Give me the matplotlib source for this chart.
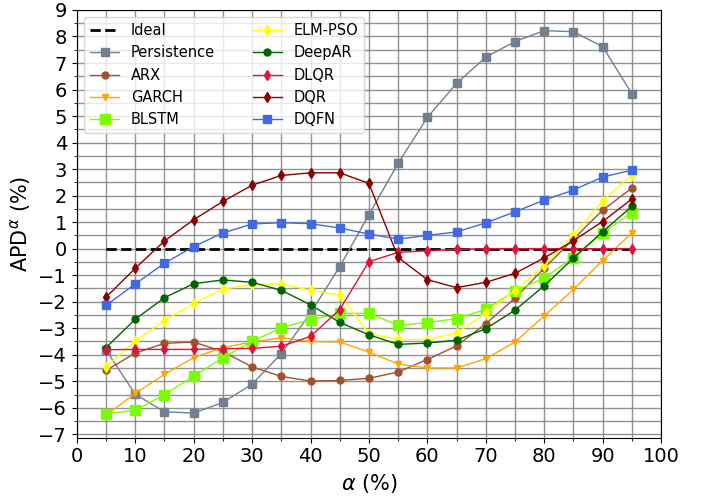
import matplotlib
matplotlib.use("Agg")
import matplotlib.pyplot as plt
import numpy as np
from matplotlib.ticker import MultipleLocator

alpha = [5, 10, 15, 20, 25, 30, 35, 40, 45, 50, 55, 60, 65, 70, 75, 80, 85, 90, 95]

ideal = [0] * 19
persistence = [-3.83, -5.49, -6.15, -6.2, -5.8, -5.11, -3.96, -2.43, -0.68, 1.28,
               3.22, 4.95, 6.23, 7.22, 7.81, 8.22, 8.18, 7.62, 5.85]
arx = [-4.59, -3.94, -3.57, -3.52, -3.88, -4.46, -4.82, -4.99, -4.97, -4.89,
       -4.65, -4.18, -3.67, -2.83, -1.87, -0.74, 0.36, 1.45, 2.28]
garch = [-6.28, -5.46, -4.74, -4.11, -3.73, -3.52, -3.36, -3.5, -3.52, -3.9,
         -4.35, -4.5, -4.5, -4.15, -3.52, -2.54, -1.54, -0.45, 0.59]
blstm = [-6.22, -6.1, -5.5, -4.81, -4.11, -3.5, -2.98, -2.68, -2.44, -2.44,
         -2.89, -2.79, -2.64, -2.29, -1.6, -1.1, -0.35, 0.59, 1.36]
elm_pso = [-4.46, -3.48, -2.71, -2.06, -1.53, -1.35, -1.33, -1.57, -1.75, -3.21,
           -3.42, -3.43, -3.18, -2.43, -1.58, -0.64, 0.52, 1.8, 2.78]
deepar = [-3.73, -2.66, -1.85, -1.32, -1.18, -1.27, -1.57, -2.12, -2.78, -3.25,
          -3.61, -3.56, -3.45, -3.02, -2.32, -1.4, -0.36, 0.64, 1.59]
dlqr = [-3.81, -3.8, -3.8, -3.8, -3.77, -3.76, -3.68, -3.31, -2.3, -0.49,
        -0.14, -0.08, -0.03, 0.0, 0.0, 0.0, 0.0, 0.0, 0.0]
dqr = [-1.83, -0.74, 0.29, 1.09, 1.78, 2.39, 2.76, 2.86, 2.86, 2.46,
       -0.33, -1.17, -1.47, -1.27, -0.93, -0.35, 0.3, 1.02, 1.87]
dqfn = [-2.14, -1.33, -0.55, 0.08, 0.59, 0.93, 0.98, 0.94, 0.78, 0.55,
        0.36, 0.5, 0.63, 0.97, 1.39, 1.83, 2.21, 2.7, 2.96]

xticks = list(range(0, 101, 10))
yticks = list(range(-7, 10))

fig = plt.figure(figsize=(7.05, 4.98), dpi=100)
ax = fig.add_axes([0.109, 0.121, 0.8286, 0.859])

ax.grid(which='both', color='gray', linewidth=1.0, alpha=0.85, zorder=0)
ax.set_axisbelow(True)

ax.plot(alpha, ideal, '--', color='black', linewidth=2, label='Ideal')
ax.plot(alpha, persistence, '-s', color='slategray', linewidth=1, markersize=6, label='Persistence')
ax.plot(alpha, arx, '-o', color='sienna', linewidth=1, markersize=5, label='ARX')
ax.plot(alpha, garch, '-v', color='orange', linewidth=1, markersize=5, label='GARCH')
ax.plot(alpha, blstm, '-s', color='lawngreen', linewidth=1, markersize=7, label='BLSTM')
ax.plot(alpha, elm_pso, '-d', color='yellow', linewidth=1, markersize=5, label='ELM-PSO')
ax.plot(alpha, deepar, '-o', color='darkgreen', linewidth=1, markersize=5, label='DeepAR')
ax.plot(alpha, dlqr, '-d', color='crimson', linewidth=1, markersize=5, label='DLQR')
ax.plot(alpha, dqr, '-d', color='darkred', linewidth=1, markersize=5, label='DQR')
ax.plot(alpha, dqfn, '-s', color='royalblue', linewidth=1, markersize=6, label='DQFN')

ax.set_xlim(0, 100)
ax.set_ylim(-7.13, 9)
ax.set_xticks(xticks)
ax.set_yticks(yticks)
ax.xaxis.set_minor_locator(MultipleLocator(5))
ax.yaxis.set_minor_locator(MultipleLocator(0.5))
ax.tick_params(axis='both', which='major', labelsize=14)

ax.set_xlabel(r'$\alpha$ (%)', fontsize=15)
ax.set_ylabel(r'APD$^{\alpha}$ (%)', fontsize=15)

ax.legend(loc='upper left', ncol=2, fontsize=10.5, columnspacing=2.6)

fig.savefig('out.png', dpi=100)
